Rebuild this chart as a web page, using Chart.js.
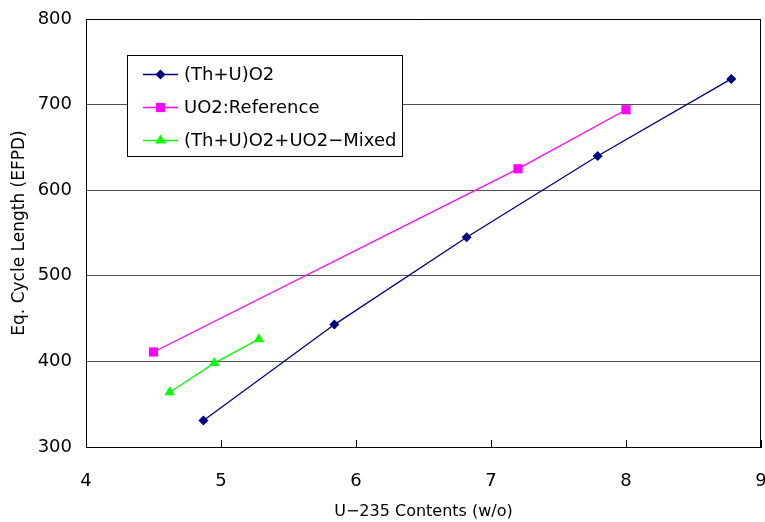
<!DOCTYPE html>
<html>
<head>
<meta charset="utf-8">
<script src="https://cdn.jsdelivr.net/npm/chart.js@4/dist/chart.umd.min.js"></script>
<style>
html,body{margin:0;padding:0;background:#fff;}
#wrap{width:765px;height:522px;position:relative;}
</style>
</head>
<body>
<div id="wrap"><canvas id="c" width="765" height="522"></canvas></div>
<script>
// Data
const seriesNames = ["(Th+U)O2", "UO2:Reference", "(Th+U)O2+UO2\u2212Mixed"];
const thuX = [4.87, 5.84, 6.82, 7.79, 8.78];
const thuY = [331, 443, 545, 640, 730];
const uo2X = [4.5, 7.2, 8.0];
const uo2Y = [411, 625, 694];
const mixX = [4.62, 4.95, 5.28];
const mixY = [364, 398, 426];
const xTicks = [4, 5, 6, 7, 8, 9];
const yTicks = [300, 400, 500, 600, 700, 800];

const FONT = "'DejaVu Sans', 'Liberation Sans', sans-serif";
const PLOT_RIGHT = 761;
const toPts = (xs, ys) => xs.map((x, i) => ({x: x, y: ys[i]}));

const frameAndTicks = {
  id: 'frameAndTicks',
  afterLayout(chart) {
    // let the plot area run to the right edge as in the reference (last tick label clipped)
    const a = chart.chartArea;
    a.right = PLOT_RIGHT;
    a.width = a.right - a.left;
    const x = chart.scales.x;
    x.right = PLOT_RIGHT;
    x.width = x.right - x.left;
    x.configure();
    const y = chart.scales.y;
    y.configure();
  },
  afterDatasetsDraw(chart) {
    const {ctx, chartArea: a, scales} = chart;
    ctx.save();
    ctx.strokeStyle = '#000';
    ctx.lineWidth = 1;
    ctx.beginPath();
    const L = Math.round(a.left) + 0.5, R = Math.round(a.right) - 0.5;
    const T = Math.round(a.top) + 0.5, B = Math.round(a.bottom) + 0.5;
    ctx.moveTo(L, T); ctx.lineTo(R, T); ctx.lineTo(R, B); ctx.lineTo(L, B); ctx.closePath();
    xTicks.forEach(v => {
      const px = Math.round(scales.x.getPixelForValue(v)) + 0.5;
      ctx.moveTo(px, a.bottom);
      ctx.lineTo(px, a.bottom - 7);
    });
    ctx.stroke();
    ctx.restore();
  },
  afterDraw(chart) {
    // legend box
    const {ctx} = chart;
    const bx = 127, by = 55, bw = 275, bh = 101;
    ctx.save();
    ctx.fillStyle = '#fff';
    ctx.fillRect(bx, by, bw, bh);
    ctx.strokeStyle = '#000';
    ctx.lineWidth = 1;
    ctx.strokeRect(bx + 0.5, by + 0.5, bw, bh);
    const rows = [74, 107, 140];
    chart.data.datasets.forEach((ds, i) => {
      const y = rows[i];
      ctx.strokeStyle = ds.borderColor;
      ctx.lineWidth = 1.3;
      ctx.beginPath();
      ctx.moveTo(143, y + 0.5);
      ctx.lineTo(178, y + 0.5);
      ctx.stroke();
      ctx.fillStyle = ds.pointBackgroundColor;
      Chart.helpers.drawPoint(ctx, {
        pointStyle: ds.pointStyle, radius: ds.pointRadius, rotation: 0, borderWidth: 0
      }, 160.5, y + 0.5);
      ctx.fillStyle = '#000';
      ctx.font = '18px ' + FONT;
      ctx.textBaseline = 'middle';
      ctx.textAlign = 'left';
      ctx.fillText(ds.label, 184, y + 1);
    });
    ctx.restore();
  }
};

new Chart(document.getElementById('c'), {
  type: 'scatter',
  data: {
    datasets: [
      {label: seriesNames[0], data: toPts(thuX, thuY), showLine: true,
       borderColor: '#000080', backgroundColor: '#000080', pointBackgroundColor: '#000080',
       pointBorderColor: '#000080', borderWidth: 1.3, pointStyle: 'rectRot', pointRadius: 5, pointBorderWidth: 0},
      {label: seriesNames[1], data: toPts(uo2X, uo2Y), showLine: true,
       borderColor: '#ff00ff', backgroundColor: '#ff00ff', pointBackgroundColor: '#ff00ff',
       pointBorderColor: '#ff00ff', borderWidth: 1.3, pointStyle: 'rect', pointRadius: 6.5, pointBorderWidth: 0},
      {label: seriesNames[2], data: toPts(mixX, mixY), showLine: true,
       borderColor: '#00ff00', backgroundColor: '#00ff00', pointBackgroundColor: '#00ff00',
       pointBorderColor: '#00ff00', borderWidth: 1.3, pointStyle: 'triangle', pointRadius: 6, pointBorderWidth: 0}
    ]
  },
  options: {
    responsive: false,
    animation: false,
    devicePixelRatio: 1,
    layout: {padding: {left: 0, right: 0, top: 19, bottom: 0}},
    plugins: {legend: {display: false}, tooltip: {enabled: false}},
    scales: {
      x: {
        type: 'linear', min: 4, max: 9,
        afterBuildTicks(s) { s.ticks = xTicks.map(v => ({value: v})); },
        afterFit(s) { s.height = 75; },
        grid: {display: false, drawTicks: false},
        border: {display: true, color: '#000', width: 1},
        ticks: {color: '#000', font: {family: FONT, size: 18}, padding: 24},
        title: {display: true, text: 'U\u2212235 Contents (w/o)', color: '#000',
                font: {family: FONT, size: 16}, padding: {top: 0, bottom: 1}}
      },
      y: {
        type: 'linear', min: 300, max: 800,
        afterBuildTicks(s) { s.ticks = yTicks.map(v => ({value: v})); },
        afterFit(s) { s.width = 86; s.paddingTop = 0; s.paddingBottom = 0; },
        grid: {color: '#505050', lineWidth: 1, drawTicks: false},
        border: {display: true, color: '#000', width: 1},
        ticks: {color: '#000', font: {family: FONT, size: 18}, padding: 14},
        title: {display: true, text: 'Eq. Cycle Length (EFPD)', color: '#000',
                font: {family: FONT, size: 17}, padding: {top: 9, bottom: 0}}
      }
    }
  },
  plugins: [frameAndTicks]
});
</script>
</body>
</html>
